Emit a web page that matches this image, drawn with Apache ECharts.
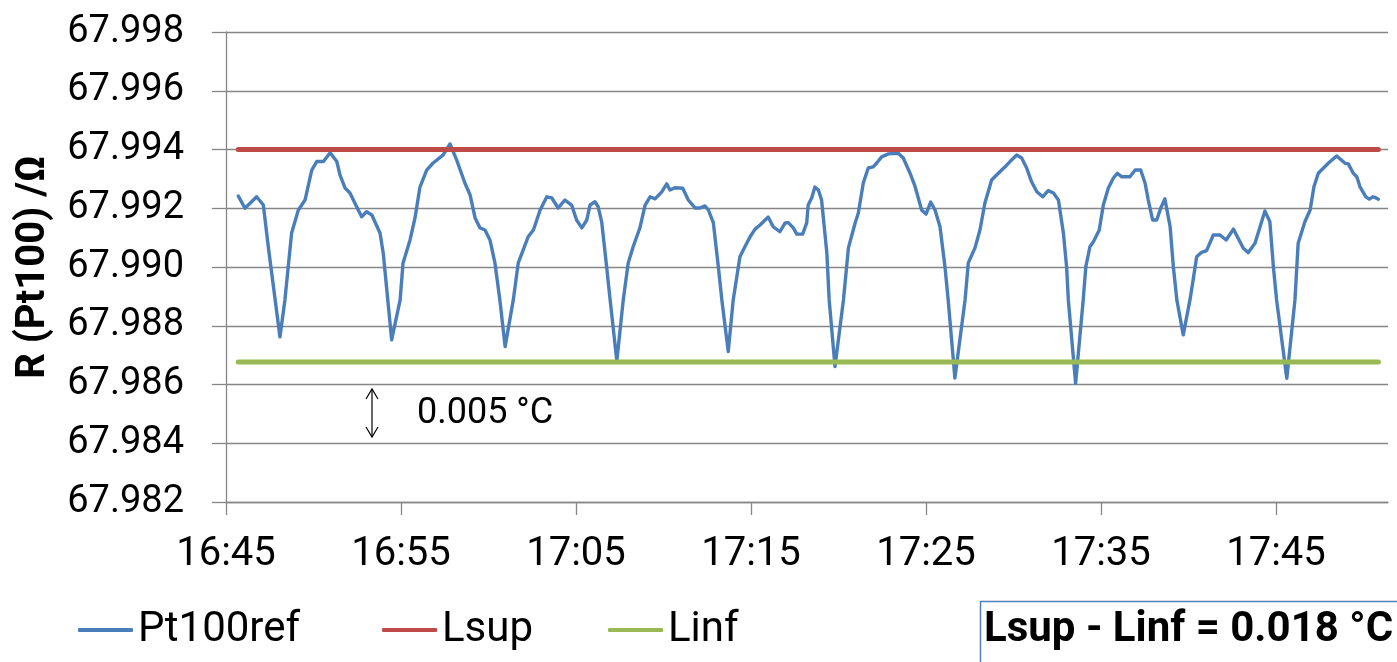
<!DOCTYPE html>
<html>
<head>
<meta charset="utf-8">
<title>R (Pt100) – Pt100ref, Lsup, Linf</title>
<script src="https://cdn.jsdelivr.net/npm/echarts@6/dist/echarts.min.js"></script>
<style>
  html, body { margin: 0; padding: 0; background: #fff; }
  #chart { width: 1397px; height: 662px; }
</style>
</head>
<body>
<div id="chart"></div>
<script>
// Sample times of the reference probe readings
const times = [
  '16:45:42','16:46:05','16:46:45','16:47:08','16:47:25','16:48:05','16:48:22','16:48:45','16:49:08','16:49:31',
  '16:49:54','16:50:11','16:50:34','16:50:57','16:51:20','16:51:31','16:51:48','16:52:05','16:52:28','16:52:45',
  '16:53:02','16:53:20','16:53:48','16:53:59','16:54:28','16:54:57','16:55:07','16:55:31','16:55:48','16:56:05',
  '16:56:28','16:56:50','16:57:24','16:57:48','16:58:11','16:58:39','16:58:57','16:59:14','16:59:31','16:59:48',
  '17:00:05','17:00:22','17:00:39','17:00:57','17:01:25','17:01:42','17:01:59','17:02:16','17:02:34','17:02:57',
  '17:03:20','17:03:37','17:03:59','17:04:22','17:04:45','17:05:02','17:05:20','17:05:37','17:05:48','17:06:05',
  '17:06:16','17:06:28','17:06:45','17:06:57','17:07:20','17:07:42','17:07:59','17:08:16','17:08:39','17:08:57',
  '17:09:14','17:09:31','17:09:54','17:10:11','17:10:22','17:10:39','17:11:06','17:11:25','17:11:48','17:12:05',
  '17:12:22','17:12:34','17:12:51','17:13:08','17:13:20','17:13:42','17:13:59','17:14:22','17:14:39','17:14:57',
  '17:15:14','17:15:31','17:15:59','17:16:16','17:16:39','17:16:57','17:17:08','17:17:25','17:17:37','17:17:57',
  '17:18:11','17:18:16','17:18:28','17:18:39','17:18:51','17:19:02','17:19:20','17:19:28','17:19:48','17:20:17',
  '17:20:34','17:20:57','17:21:08','17:21:25','17:21:42','17:21:59','17:22:11','17:22:28','17:22:51','17:23:25',
  '17:23:42','17:24:05','17:24:22','17:24:45','17:25:00','17:25:16','17:25:31','17:25:48','17:26:05','17:26:16',
  '17:26:39','17:27:14','17:27:25','17:27:48','17:28:05','17:28:22','17:28:45','17:29:02','17:29:31','17:29:48',
  '17:30:11','17:30:28','17:30:45','17:31:02','17:31:20','17:31:40','17:31:59','17:32:17','17:32:34','17:32:51',
  '17:33:02','17:33:08','17:33:33','17:33:59','17:34:08','17:34:22','17:34:34','17:34:54','17:35:08','17:35:25',
  '17:35:42','17:35:56','17:36:11','17:36:39','17:36:57','17:37:16','17:37:31','17:37:42','17:37:57','17:38:11',
  '17:38:25','17:38:39','17:38:57','17:39:08','17:39:20','17:39:42','17:40:05','17:40:17','17:40:28','17:40:45',
  '17:41:02','17:41:25','17:41:48','17:42:09','17:42:34','17:43:08','17:43:25','17:43:48','17:44:22','17:44:39',
  '17:44:51','17:45:02','17:45:37','17:46:05','17:46:16','17:46:39','17:46:57','17:47:10','17:47:25','17:47:59',
  '17:48:28','17:48:57','17:49:08','17:49:25','17:49:37','17:49:48','17:50:08','17:50:20','17:50:32','17:50:39',
  '17:50:51'
];

// Pt100ref resistance, Ω
const pt100ref = [
  67.99242,67.99200,67.99239,67.99211,67.99069,67.98762,67.98888,67.99116,67.99194,67.99228,
  67.99330,67.99359,67.99359,67.99389,67.99359,67.99313,67.99269,67.99252,67.99205,67.99171,
  67.99188,67.99177,67.99116,67.99048,67.98752,67.98888,67.99014,67.99092,67.99167,67.99272,
  67.99330,67.99354,67.99381,67.99419,67.99364,67.99286,67.99245,67.99167,67.99133,67.99126,
  67.99092,67.99014,67.98888,67.98729,67.98888,67.99014,67.99058,67.99103,67.99126,67.99194,
  67.99239,67.99235,67.99201,67.99228,67.99211,67.99160,67.99133,67.99160,67.99211,67.99222,
  67.99205,67.99154,67.99001,67.98888,67.98680,67.98888,67.99014,67.99069,67.99133,67.99211,
  67.99239,67.99232,67.99256,67.99283,67.99262,67.99270,67.99268,67.99228,67.99201,67.99201,
  67.99208,67.99194,67.99150,67.99001,67.98888,67.98712,67.98888,67.99035,67.99069,67.99103,
  67.99129,67.99143,67.99170,67.99137,67.99120,67.99150,67.99151,67.99133,67.99112,67.99112,
  67.99150,67.99211,67.99235,67.99272,67.99262,67.99228,67.99048,67.98888,67.98661,67.98888,
  67.99065,67.99150,67.99184,67.99286,67.99337,67.99341,67.99354,67.99375,67.99385,67.99387,
  67.99371,67.99320,67.99276,67.99194,67.99180,67.99221,67.99194,67.99137,67.99001,67.98888,
  67.98622,67.98888,67.99014,67.99065,67.99126,67.99218,67.99296,67.99313,67.99341,67.99359,
  67.99381,67.99371,67.99337,67.99290,67.99256,67.99239,67.99260,67.99252,67.99228,67.99116,
  67.99001,67.98888,67.98604,67.98888,67.99001,67.99069,67.99086,67.99126,67.99211,67.99268,
  67.99302,67.99319,67.99307,67.99307,67.99330,67.99330,67.99286,67.99228,67.99160,67.99160,
  67.99201,67.99232,67.99137,67.99001,67.98888,67.98769,67.98888,67.98963,67.99035,67.99050,
  67.99056,67.99109,67.99109,67.99092,67.99129,67.99064,67.99049,67.99081,67.99191,67.99154,
  67.99001,67.98888,67.98621,67.98888,67.99081,67.99154,67.99194,67.99273,67.99319,67.99353,
  67.99378,67.99353,67.99351,67.99319,67.99307,67.99273,67.99239,67.99231,67.99239,67.99237,
  67.99231
];

// Control limits, Ω
const LSUP = 67.994;
const LINF = 67.98677;

// Axis settings
const X_START = '16:45';
const X_END = '17:51:24';
const X_TICKS = ['16:45','16:55','17:05','17:15','17:25','17:35','17:45'];
const Y_MIN = 67.982, Y_MAX = 67.998, Y_STEP = 0.002;

function toSec(hms) {
  const p = hms.split(':').map(Number);
  return p[0] * 3600 + p[1] * 60 + (p[2] || 0);
}
const origin = toSec(X_START);
// minutes elapsed since the start of the x axis
const toMin = hms => (toSec(hms) - origin) / 60;
const fmtClock = m => {
  const total = Math.round(origin / 60 + m);
  const h = Math.floor(total / 60), mm = total % 60;
  return h + ':' + String(mm).padStart(2, '0');
};

const tMin = times.map(toMin);
const ptData = tMin.map((t, i) => [t, pt100ref[i]]);
const tFirst = tMin[0], tLast = tMin[tMin.length - 1];
const lsupData = [[tFirst, LSUP], [tLast, LSUP]];
const linfData = [[tFirst, LINF], [tLast, LINF]];
const tickMins = X_TICKS.map(toMin);

const FONT = 'Roboto, "Liberation Sans", sans-serif';
const AXIS_GREY = '#868686';

const chart = echarts.init(document.getElementById('chart'), null, { renderer: 'canvas' });

const legendBase = {
  orient: 'horizontal',
  top: 607,
  padding: 0,
  itemWidth: 55,
  itemHeight: 4,
  icon: 'roundRect',
  selectedMode: false,
  textStyle: { fontFamily: FONT, fontSize: 42, color: '#000', lineHeight: 46 }
};

chart.setOption({
  animation: false,
  backgroundColor: '#fff',
  grid: { left: 226, right: 9, top: 32, bottom: 160, containLabel: false },
  xAxis: {
    type: 'value',
    min: 0,
    max: toMin(X_END),
    axisLine: { show: true, onZero: false, lineStyle: { color: AXIS_GREY, width: 1.3 } },
    axisTick: { show: true, length: 13, inside: false, customValues: tickMins,
                lineStyle: { color: AXIS_GREY, width: 1.3 } },
    axisLabel: { customValues: tickMins, formatter: v => fmtClock(v), margin: 33,
                 fontFamily: FONT, fontSize: 40, color: '#000' },
    splitLine: { show: false }
  },
  yAxis: {
    type: 'value',
    min: Y_MIN,
    max: Y_MAX,
    interval: Y_STEP,
    name: 'R (Pt100) /Ω',
    nameLocation: 'middle',
    nameRotate: 90,
    nameGap: 172,
    nameTextStyle: { fontFamily: FONT, fontSize: 40, fontWeight: 'bold', color: '#000' },
    axisLine: { show: true, lineStyle: { color: AXIS_GREY, width: 1.3 } },
    axisTick: { show: true, length: 14, lineStyle: { color: AXIS_GREY, width: 1.3 } },
    axisLabel: { formatter: v => v.toFixed(3), margin: 42,
                 fontFamily: FONT, fontSize: 38, color: '#000' },
    splitLine: { show: true, lineStyle: { color: AXIS_GREY, width: 1.3 } }
  },
  legend: [
    Object.assign({}, legendBase, { left: 78, data: ['Pt100ref'] }),
    Object.assign({}, legendBase, { left: 382, data: ['Lsup'] }),
    Object.assign({}, legendBase, { left: 608, data: ['Linf'] })
  ],
  series: [
    {
      name: 'Pt100ref', type: 'line', data: ptData, showSymbol: false, symbol: 'none',
      lineStyle: { color: '#4A7EBB', width: 3.4, join: 'round', cap: 'round' },
      itemStyle: { color: '#4A7EBB' }
    },
    {
      name: 'Lsup', type: 'line', data: lsupData, showSymbol: false, symbol: 'none',
      lineStyle: { color: '#BE4B48', width: 5, cap: 'round' },
      itemStyle: { color: '#BE4B48' }
    },
    {
      name: 'Linf', type: 'line', data: linfData, showSymbol: false, symbol: 'none',
      lineStyle: { color: '#98B954', width: 5, cap: 'round' },
      itemStyle: { color: '#98B954' }
    }
  ],
  graphic: [
    // double-headed arrow with its temperature note
    {
      type: 'polyline', silent: true,
      shape: { points: [[372, 389], [372, 437]] },
      style: { stroke: '#000', lineWidth: 1.2, fill: null }
    },
    {
      type: 'polyline', silent: true,
      shape: { points: [[366, 399], [372, 389], [378, 399]] },
      style: { stroke: '#000', lineWidth: 1.2, fill: null }
    },
    {
      type: 'polyline', silent: true,
      shape: { points: [[366, 427], [372, 437], [378, 427]] },
      style: { stroke: '#000', lineWidth: 1.2, fill: null }
    },
    {
      type: 'text', silent: true, left: 417, top: 396,
      style: { text: '0.005 °C', font: '36px ' + FONT, fill: '#000' }
    },
    // boxed summary of the limit spread
    {
      type: 'rect', silent: true,
      shape: { x: 980.5, y: 601.5, width: 440, height: 90 },
      style: { stroke: '#4F81BD', lineWidth: 1.5, fill: '#fff' }
    },
    {
      type: 'text', silent: true, left: 984, top: 609,
      style: { text: 'Lsup - Linf = 0.018 °C', font: 'bold 42px ' + FONT, fill: '#000' }
    }
  ]
});
</script>
</body>
</html>
